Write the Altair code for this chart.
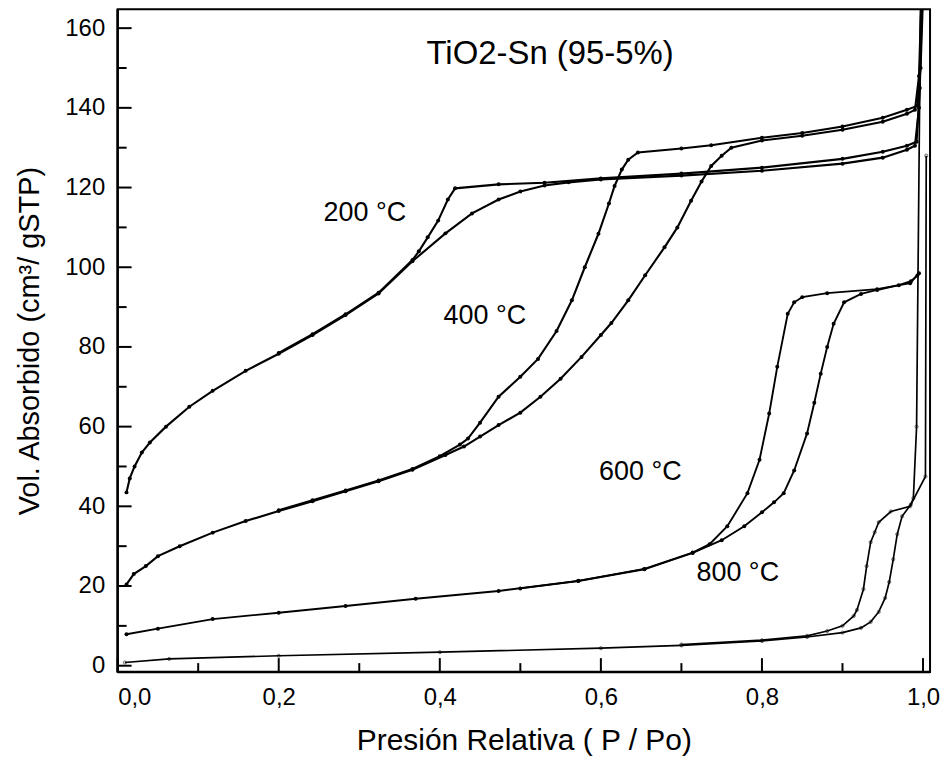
import altair as alt
import pandas as pd

# ---------------- data ----------------
t200_ads_x = [0.011, 0.015, 0.021, 0.03, 0.04, 0.06, 0.089, 0.118, 0.159, 0.2, 0.242, 0.283, 0.324, 0.366,
              0.407, 0.44, 0.473, 0.5, 0.53, 0.56, 0.6, 0.7, 0.8, 0.9, 0.95, 0.98, 0.99, 0.995, 0.998]
t200_ads_y = [43.5, 47, 50, 53.5, 56, 60, 65, 69, 74, 78.3, 83, 88, 93.4, 101.5,
              108.5, 113.5, 117, 119, 120.5, 121.3, 122, 123, 124.2, 126, 127.5, 129.5, 130.5, 140, 168]
t200_des_x = [0.999, 0.996, 0.992, 0.98, 0.95, 0.9, 0.8, 0.7, 0.6, 0.53, 0.473, 0.419, 0.41, 0.398, 0.385,
              0.374, 0.366, 0.324, 0.283, 0.242, 0.2]
t200_des_y = [168, 145, 131.5, 130.5, 129, 127.2, 125, 123.5, 122.3, 121.2, 120.8, 119.8, 117, 111.7, 107.5,
              104, 101.8, 93.6, 88.2, 83.2, 78.5]

t400_ads_x = [0.011, 0.02, 0.035, 0.05, 0.077, 0.118, 0.159, 0.2, 0.242, 0.283, 0.324, 0.366, 0.407, 0.43,
              0.45, 0.473, 0.5, 0.525, 0.55, 0.576, 0.6, 0.613, 0.634, 0.655, 0.679, 0.695, 0.712, 0.725,
              0.737, 0.75, 0.762, 0.8, 0.85, 0.9, 0.95, 0.98, 0.99, 0.995, 0.998]
t400_ads_y = [20.4, 23, 25, 27.5, 30, 33.4, 36.3, 38.8, 41.3, 43.8, 46.3, 49.2, 52.9, 55,
              57.5, 60.4, 63.5, 67.5, 72, 77.5, 83, 86, 91.7, 98, 105, 110, 116.7, 121.5,
              125.4, 128, 130, 131.8, 133, 134.5, 136.5, 138.5, 139.5, 148, 168]
t400_des_x = [1.0, 0.997, 0.993, 0.98, 0.95, 0.9, 0.85, 0.8, 0.737, 0.7, 0.646, 0.634, 0.626, 0.617, 0.61,
              0.597, 0.58, 0.564, 0.545, 0.522, 0.5, 0.473, 0.45, 0.435, 0.425, 0.4, 0.366, 0.324, 0.283,
              0.242, 0.2]
t400_des_y = [168, 150, 140.5, 139.5, 137.5, 135.3, 133.7, 132.5, 130.6, 129.8, 128.8, 127, 124.5, 120.4, 116,
              108.4, 100, 91.7, 84, 77, 72.5, 67.5, 61, 57, 55.5, 52.6, 49.4, 46.5, 44, 41.5, 39]

t600_ads_x = [0.011, 0.05, 0.118, 0.2, 0.283, 0.37, 0.473, 0.572, 0.654, 0.714, 0.75, 0.778, 0.8, 0.815,
              0.827, 0.84, 0.856, 0.865, 0.873, 0.881, 0.889, 0.902, 0.923, 0.943, 0.97, 0.985, 0.993]
t600_ads_y = [7.9, 9.3, 11.7, 13.3, 15, 16.8, 18.75, 21.25, 24.2, 28.3, 31.5, 35, 38.5, 41,
              43.3, 49, 58.3, 66, 73.3, 80, 85.8, 91.2, 93.3, 94.3, 95.5, 96.5, 97.9]
t600_des_x = [0.995, 0.984, 0.943, 0.881, 0.85, 0.84, 0.832, 0.819, 0.809, 0.797, 0.782, 0.757, 0.735,
              0.714, 0.654, 0.572, 0.5]
t600_des_y = [98.5, 96, 94.5, 93.5, 92.5, 91.2, 88.3, 75, 63.3, 51.7, 43.3, 35, 30.5,
              28.4, 24.3, 21.3, 19.4]

t800_ads_x = [0.009, 0.064, 0.2, 0.4, 0.6, 0.7, 0.8, 0.856, 0.9, 0.923, 0.935, 0.945, 0.953, 0.958,
              0.963, 0.968, 0.974, 0.985, 1.003, 1.004]
t800_ads_y = [0.8, 1.7, 2.5, 3.4, 4.4, 5.1, 6.2, 7.2, 8.3, 9.5, 11, 13.5, 17, 21,
              26.7, 33, 37.5, 40.5, 47.5, 128]
t800_des_x = [0.997, 0.992, 0.988, 0.984, 0.96, 0.945, 0.94, 0.935, 0.93, 0.926, 0.918, 0.914, 0.9,
              0.881, 0.856, 0.8, 0.7]
t800_des_y = [168, 60, 42, 40, 38.7, 36, 33.5, 31, 25, 19.2, 14, 12.5, 10,
              8.7, 7.5, 6.4, 5.3]

label_text = ["200 °C", "400 °C", "600 °C", "800 °C"]
label_x = [0.307, 0.456, 0.649, 0.770]
label_y = [113.7, 87.7, 48.7, 23.2]

title_text = ["TiO2-Sn (95-5%)"]
title_x = [0.537]
title_y = [153.4]

y_major = [0, 20, 40, 60, 80, 100, 120, 140, 160]
y_minor = [10, 30, 50, 70, 90, 110, 130, 150]
x_major = [0.0, 0.2, 0.4, 0.6, 0.8, 1.0]
x_minor = [0.1, 0.3, 0.5, 0.7, 0.9]

# ---------------- build tables ----------------
series = [
    ("200 ads", t200_ads_x, t200_ads_y, "a"),
    ("200 des", t200_des_x, t200_des_y, "a"),
    ("400 ads", t400_ads_x, t400_ads_y, "a"),
    ("400 des", t400_des_x, t400_des_y, "a"),
    ("600 ads", t600_ads_x, t600_ads_y, "b"),
    ("600 des", t600_des_x, t600_des_y, "b"),
    ("800 ads", t800_ads_x, t800_ads_y, "c"),
    ("800 des", t800_des_x, t800_des_y, "c"),
]
rows = []
for name, xs_, ys_, kind in series:
    for i, (xv, yv) in enumerate(zip(xs_, ys_)):
        rows.append({"serie": name, "x": xv, "y": yv, "i": i, "kind": kind})
df = pd.DataFrame(rows)

W, H = 815, 665
XDOM = [0, 1.0087]
YDOM = [-1.6, 164.75]
FONT = "Liberation Sans"

xs = alt.Scale(domain=XDOM, nice=False, zero=False)
ys = alt.Scale(domain=YDOM, nice=False, zero=False)

base = alt.Chart(df)

x_enc = alt.X("x:Q", scale=xs,
              axis=alt.Axis(title="Presión Relativa ( P / Po)", values=x_major,
                            labelExpr="replace(format(datum.value, '.1f'), '.', ',')",
                            grid=False, ticks=False, tickSize=0, domain=False,
                            labelFont=FONT, labelFontSize=24, labelColor="black", labelPadding=14,
                            titleFont=FONT, titleFontSize=30, titleFontWeight="normal",
                            titleColor="black", titlePadding=16))
y_enc = alt.Y("y:Q", scale=ys,
              axis=alt.Axis(title="Vol. Absorbido (cm³/ gSTP)", values=y_major,
                            grid=False, ticks=False, tickSize=0, domain=False,
                            labelFont=FONT, labelFontSize=24, labelColor="black", labelPadding=13,
                            titleFont=FONT, titleFontSize=29, titleFontWeight="normal",
                            titleColor="black", titlePadding=20))

lines = base.mark_line(color="black", clip=True).encode(
    x=x_enc, y=y_enc,
    detail="serie:N",
    order="i:Q",
    strokeWidth=alt.StrokeWidth("kind:N", scale=alt.Scale(domain=["a", "b", "c"], range=[2.1, 1.7, 1.4]),
                                legend=None),
)

pts = base.transform_filter(alt.datum.kind != "c").mark_circle(
    color="black", size=16, opacity=1, clip=True
).encode(x=alt.X("x:Q", scale=xs), y=alt.Y("y:Q", scale=ys))

pts800 = base.transform_filter(alt.datum.kind == "c").mark_point(
    color="black", size=10, strokeWidth=0.8, filled=False, clip=True
).encode(x=alt.X("x:Q", scale=xs), y=alt.Y("y:Q", scale=ys))

labels = alt.Chart(pd.DataFrame({"t": label_text, "x": label_x, "y": label_y})).mark_text(
    font=FONT, fontSize=27, color="black", align="center", baseline="middle"
).encode(x=alt.X("x:Q", scale=xs), y=alt.Y("y:Q", scale=ys), text="t:N")

title = alt.Chart(pd.DataFrame({"t": title_text, "x": title_x, "y": title_y})).mark_text(
    font=FONT, fontSize=33, color="black", align="center", baseline="middle"
).encode(x=alt.X("x:Q", scale=xs), y=alt.Y("y:Q", scale=ys), text="t:N")

# inward ticks
yt_major = alt.Chart(pd.DataFrame({"v": y_major})).mark_rule(color="black", strokeWidth=2).encode(
    y=alt.Y("v:Q", scale=ys), x=alt.value(0), x2=alt.value(14))
yt_minor = alt.Chart(pd.DataFrame({"v": y_minor})).mark_rule(color="black", strokeWidth=2).encode(
    y=alt.Y("v:Q", scale=ys), x=alt.value(0), x2=alt.value(9))
xt_major = alt.Chart(pd.DataFrame({"v": x_major})).mark_rule(color="black", strokeWidth=2).encode(
    x=alt.X("v:Q", scale=xs), y=alt.value(H), y2=alt.value(H - 14))
xt_minor = alt.Chart(pd.DataFrame({"v": x_minor})).mark_rule(color="black", strokeWidth=2).encode(
    x=alt.X("v:Q", scale=xs), y=alt.value(H), y2=alt.value(H - 9))

# frame: bottom and left heavier
frame_l = alt.Chart(pd.DataFrame({"v": [0]})).mark_rule(color="black", strokeWidth=2.5).encode(
    x=alt.value(0), y=alt.value(0), y2=alt.value(H))
frame_b = alt.Chart(pd.DataFrame({"v": [0]})).mark_rule(color="black", strokeWidth=2.5).encode(
    x=alt.value(0), x2=alt.value(W), y=alt.value(H))

chart = alt.layer(
    lines, pts, pts800, labels, title, yt_major, yt_minor, xt_major, xt_minor, frame_l, frame_b
).properties(
    width=W, height=H,
    autosize=alt.AutoSizeParams(type="none"),
    padding={"left": 110, "top": 0, "right": 10, "bottom": 100},
    background="white",
).configure_view(stroke="black", strokeWidth=2)

chart.save("out.html", embed_options={"renderer": "svg", "actions": False})
